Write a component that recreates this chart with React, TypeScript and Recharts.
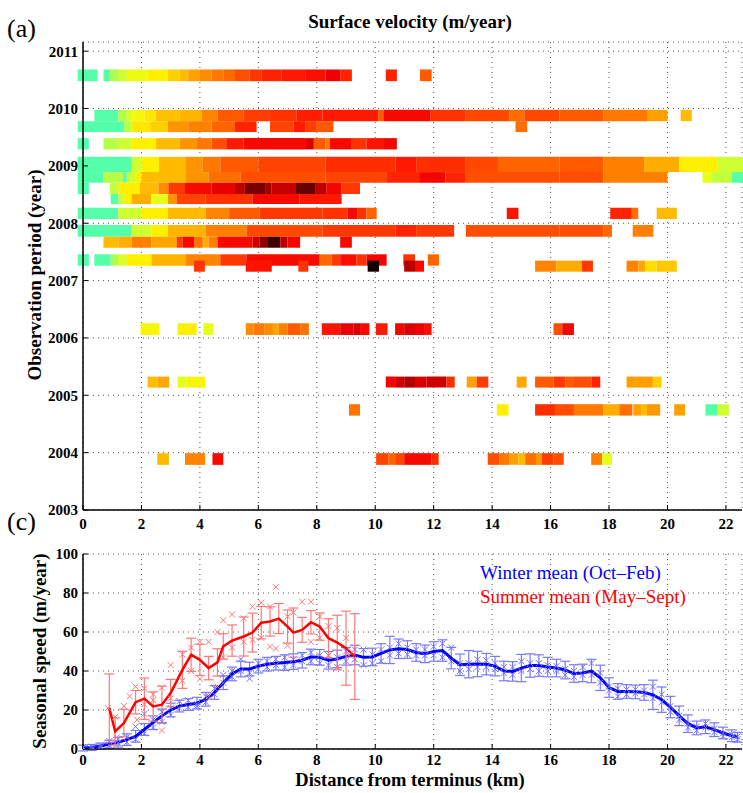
import React from 'react';
import { ComposedChart, XAxis, YAxis, CartesianGrid, ReferenceArea, Line, Scatter, ErrorBar } from 'recharts';

type Cell = [number, number, number]; // km start, km end, velocity (m/yr)

// ---------- (a) Surface velocity observations ----------
const obs2010c: Cell[] = [[-0.18,0.5,0],[0.7,0.92,0],[0.92,1.2,9],[1.2,1.5,12],[1.5,2.2,15],[2.2,2.9,17],[2.9,3.3,21],[3.3,3.6,24],[3.6,4.0,28],[4.0,4.4,31],[4.4,4.8,34],[4.8,5.2,37],[5.2,5.7,42],[5.7,6.1,46],[6.1,6.8,50],[6.8,7.6,52],[7.6,8.3,54],[8.3,8.8,57],[8.8,9.2,50],[10.36,10.74,50],[11.53,11.93,40]];
const obs2009d: Cell[] = [[0.39,1.21,0],[1.21,1.5,10],[1.5,1.72,13],[1.72,2.1,16],[2.1,2.5,18],[2.5,3.3,23],[3.3,4.05,25],[4.05,4.6,32],[4.6,5.5,40],[5.5,6.4,45],[6.4,7.3,47],[7.3,8.2,51],[8.2,10.1,52],[10.1,10.3,40],[10.3,11.9,55],[11.9,13.1,47],[13.1,14.6,43],[14.6,15.1,36],[15.1,16.3,43],[16.3,17.8,40],[17.8,19.3,34],[19.3,20.0,28],[20.45,20.83,24]];
const obs2009c: Cell[] = [[-0.18,1.41,0],[1.41,1.66,10],[1.66,2.3,18],[2.3,2.9,21],[2.9,3.6,30],[3.6,4.4,33],[4.4,5.2,38],[5.2,5.94,50],[6.4,7.2,44],[7.2,7.6,52],[7.6,8.0,45],[8.0,8.57,40],[14.8,15.2,36]];
const obs2009b: Cell[] = [[-0.18,0.2,0],[0.7,1.2,10],[1.2,1.67,12],[1.67,2.5,17],[2.5,3.3,24],[3.3,3.9,30],[3.9,4.4,34],[4.4,4.9,42],[4.9,5.5,52],[5.5,7.6,55],[7.6,7.9,60],[7.9,8.3,40],[8.3,8.45,34],[8.45,9.2,55],[9.2,9.7,47],[9.7,10.3,53],[10.3,10.74,56]];
const obs2009a: Cell[] = [[-0.18,1.67,0],[1.67,2.0,12],[2.0,2.6,17],[2.6,3.5,24],[3.5,4.1,30],[4.1,4.7,34],[4.7,6.0,40],[6.0,8.3,44],[8.3,10.7,48],[10.7,11.4,52],[11.4,13.1,48],[13.1,14.2,43],[14.2,16.3,38],[16.3,17.8,40],[17.8,19.2,33],[19.2,20.4,26],[20.4,21.7,17],[21.7,22.6,12]];
const obs2008e: Cell[] = [[-0.18,0.7,0],[0.7,1.37,10],[1.37,1.5,3],[1.5,1.8,12],[1.8,2.0,17],[2.0,3.5,24],[3.5,4.3,30],[4.3,5.4,36],[5.4,8.3,42],[8.3,10.4,44],[10.4,11.5,50],[11.5,12.4,56],[12.4,13.1,50],[13.1,16.3,42],[16.3,17.8,42],[17.8,20.0,33],[21.2,21.5,14],[21.5,22.2,11],[22.2,22.6,3]];
const obs2008d: Cell[] = [[-0.18,0.2,0],[0.92,1.21,11],[1.21,1.95,17],[1.95,2.58,24],[2.58,2.92,31],[2.92,3.49,46],[3.49,4.4,55],[4.4,5.2,58],[5.2,5.54,64],[5.54,6.23,76],[6.23,6.46,68],[6.46,7.26,63],[7.26,7.94,80],[7.94,8.34,64],[8.34,8.85,56],[8.85,9.48,46]];
const obs2008c: Cell[] = [[0.95,1.21,0],[1.21,1.41,11],[1.41,1.66,17],[1.66,2.34,26],[2.34,2.9,14],[2.9,3.2,30],[3.2,4.2,44],[4.2,5.8,47],[5.8,7.4,55],[7.4,8.85,52]];
const obs2008b: Cell[] = [[-0.18,1.21,0],[1.21,2.0,12],[2.0,2.9,17],[2.9,4.2,24],[4.2,5.0,32],[5.0,6.05,40],[6.05,8.2,46],[8.2,9.05,47],[9.05,9.4,55],[9.4,9.7,47],[9.7,10.05,38],[14.5,14.9,53],[18.04,18.78,50],[18.78,19.0,36],[19.63,20.32,24]];
const obs2008a: Cell[] = [[-0.18,1.66,0],[1.66,2.34,12],[2.34,2.9,17],[2.9,4.2,25],[4.2,5.6,33],[5.6,8.2,43],[8.2,10.7,46],[10.7,11.4,50],[11.4,12.7,46],[13.1,16.3,42],[16.3,17.8,42],[17.8,18.1,37],[18.81,19.52,33]];
const obs2007c: Cell[] = [[0.7,1.21,24],[1.21,1.66,26],[1.66,2.34,33],[2.34,3.2,27],[3.2,3.4,45],[3.4,3.8,55],[3.8,4.1,35],[4.1,4.3,26],[4.3,4.6,33],[4.6,5.8,55],[5.8,6.05,62],[6.05,6.3,72],[6.3,6.75,88],[6.75,7.0,65],[7.0,7.43,56],[8.8,9.2,55]];
const obs2007b: Cell[] = [[-0.18,0.2,0],[0.39,0.95,0],[0.95,1.2,9],[1.2,1.5,13],[1.5,2.34,17],[2.34,3.5,25],[3.5,4.7,32],[4.7,5.6,46],[5.6,8.1,55],[8.1,8.5,37],[8.5,8.8,46],[8.8,9.35,54],[9.35,9.7,47],[9.7,10.39,56],[10.96,11.36,47],[11.8,12.18,38]];
const obs2007a: Cell[] = [[3.8,4.17,47],[5.57,6.46,53],[7.37,7.71,47],[9.74,10.13,95],[10.99,11.36,65],[11.36,11.67,55],[15.47,16.2,32],[16.2,17.07,26],[17.07,17.45,46],[18.6,19.0,32],[19.0,19.23,27],[19.23,19.63,19],[19.63,20.32,22]];
const obs2006: Cell[] = [[1.97,2.61,16],[3.24,3.89,17],[4.12,4.46,14],[5.57,5.83,31],[5.83,6.2,34],[6.2,6.5,31],[6.5,6.7,27],[6.7,7.0,33],[7.0,7.43,40],[7.43,7.73,35],[8.17,8.8,53],[8.8,9.25,58],[9.25,9.48,61],[9.48,9.8,55],[10.02,10.42,52],[10.68,10.99,56],[10.99,11.36,60],[11.36,11.7,57],[11.7,11.93,54],[16.1,16.4,42],[16.4,16.8,56]];
const obs2005b: Cell[] = [[2.21,2.56,24],[2.56,2.95,27],[3.24,3.55,14],[3.55,4.18,16],[10.36,10.68,56],[10.68,10.99,62],[10.99,11.36,66],[11.36,11.76,60],[11.76,12.44,62],[12.44,12.72,48],[13.13,13.47,28],[13.47,13.87,45],[14.84,15.18,27],[15.47,16.1,40],[16.1,16.5,46],[16.5,16.8,40],[16.8,17.4,42],[17.4,17.7,50],[18.6,19.5,28],[19.5,19.8,21]];
const obs2005a: Cell[] = [[9.1,9.48,35],[14.16,14.56,17],[15.47,16.15,48],[16.15,16.8,42],[16.8,17.8,34],[17.8,18.35,26],[18.35,18.8,36],[18.83,19.1,28],[19.1,19.3,24],[19.3,19.75,29],[20.23,20.6,28],[21.3,21.7,3],[21.7,22.1,12]];
const obs2004: Cell[] = [[2.54,2.94,24],[3.49,4.18,32],[4.43,4.8,55],[10.03,10.45,44],[10.45,10.68,38],[10.68,10.99,44],[10.99,11.93,55],[11.93,12.17,48],[13.85,14.24,42],[14.24,14.6,34],[14.6,14.9,28],[14.9,15.13,24],[15.13,15.5,36],[15.5,15.7,30],[15.7,16.1,45],[16.1,16.45,42],[17.39,17.77,33],[17.77,18.1,14]];

// observation periods (decimal years) for each row
const periods: { from: number; to: number; cells: Cell[] }[] = [
  { from: 2010.477, to: 2010.681, cells: obs2010c },
  { from: 2009.780, to: 2009.977, cells: obs2009d },
  { from: 2009.589, to: 2009.780, cells: obs2009c },
  { from: 2009.287, to: 2009.484, cells: obs2009b },
  { from: 2008.892, to: 2009.158, cells: obs2009a },
  { from: 2008.706, to: 2008.892, cells: obs2008e },
  { from: 2008.509, to: 2008.706, cells: obs2008d },
  { from: 2008.334, to: 2008.509, cells: obs2008c },
  { from: 2008.073, to: 2008.270, cells: obs2008b },
  { from: 2007.765, to: 2007.969, cells: obs2008a },
  { from: 2007.573, to: 2007.765, cells: obs2007c },
  { from: 2007.260, to: 2007.458, cells: obs2007b },
  { from: 2007.155, to: 2007.348, cells: obs2007a },
  { from: 2006.052, to: 2006.256, cells: obs2006 },
  { from: 2005.134, to: 2005.326, cells: obs2005b },
  { from: 2004.646, to: 2004.845, cells: obs2005a },
  { from: 2003.787, to: 2003.991, cells: obs2004 },
];

const kmTicks = [0, 2, 4, 6, 8, 10, 12, 14, 16, 18, 20, 22];
const yearTicks = [2003, 2004, 2005, 2006, 2007, 2008, 2009, 2010, 2011];
const speedTicks = [0, 20, 40, 60, 80, 100];

// ---------- (c) Seasonal speed ----------
const winterX = [0,0.3,0.6,0.9,1.2,1.5,1.8,2.1,2.4,2.7,3.0,3.3,3.6,3.9,4.2,4.5,4.8,5.1,5.4,5.7,6.0,6.3,6.6,6.9,7.2,7.5,7.8,8.1,8.4,8.7,9.0,9.3,9.6,9.9,10.2,10.5,10.8,11.1,11.4,11.7,12.0,12.3,12.6,12.9,13.2,13.5,13.8,14.1,14.4,14.7,15.0,15.3,15.6,15.9,16.2,16.5,16.8,17.1,17.4,17.7,18.0,18.3,18.6,18.9,19.2,19.5,19.8,20.1,20.4,20.7,21.0,21.3,21.6,21.9,22.2,22.4];
const winterMean = [0.5,0.8,1.5,2.5,3.5,4.8,6.5,10,13.5,17,20,22,22.8,23.5,25.5,29,34,38.5,41,41,42.5,43.5,44,44.3,44.8,45.5,47.2,47,45.5,46.2,47.5,48.2,47,47.2,49,50.8,51.4,51,49.5,48.8,50,50.5,46.6,43.2,43.5,43.6,43.5,42.5,40,39.8,41.5,42.8,42.8,42,41.5,40.5,38.7,39,40,36.5,31.5,29.5,29.5,29.3,29,27.8,25.3,21.5,17,13,10.8,11.4,9.9,8.2,6.8,6];
const winterErr = [1.5,1.5,1.5,2,2.5,3,3,3,3.5,3.5,3.5,3,3,3,3.5,3.5,3.5,3.5,4,3.5,3.5,3.5,3.5,4,4,4,4,4,4.5,4.5,4.5,5,4.5,4.5,5,7,5,4.5,4.5,4.5,5,5.5,5.5,5.5,7,6.5,5.5,5,5,5,7,6,5.5,5,4.5,4.5,4.5,4.5,6,6.5,5,4,3.5,3.5,4,7.5,6.5,5.5,5,4.5,3.5,3.5,3.5,3,3,2.5];
const winterHigh = [1,1.2,2,4,5,6,11.5,18,15,19,21,24.5,25,23,27,31,38,40,46,39,44,45,46,47,46,48,49.5,48,48,47,50,51,51,48.5,51,52,54,52,51,51,52.5,54,52,44,44,46,45.5,44,42,42,45,44,44,43,42.5,41,40,42,44,39,32,31,30.5,30.5,30,32,28,22,17,13,11.5,13,10.5,8,7.5,6.5];
const winterLow = [0.5,0,1,2,3,3.5,5,8,11,14,17.5,21,21.5,22,24,28,34,37,40,36,41,42,43,42,43,45,45,44,43,42,45,46,43,44,45,48,49,48.5,48,48,48,47,45,40,41,42,42,41,39,38,40,41,40,40,40,38,37,38,38,34,30,27,28,28.5,28,26,24,19,15,11,9.5,11,8.5,6.5,6,5];

const summerX = [0.9,1.1,1.4,1.8,2.1,2.4,2.7,3.0,3.4,3.7,4.0,4.3,4.6,4.8,5.1,5.5,5.8,6.1,6.4,6.7,7.0,7.2,7.5,7.8,8.1,8.4,8.7,9.0,9.3];
const summerMean = [21,9,13.3,24,25.8,21.8,22.7,28.7,40.6,48.3,45.7,41.5,44.4,52.6,55.6,57.7,59.7,64.8,65.4,66.9,62.8,59.7,61.1,65,62.8,56.8,54.6,51.7,47.4];
const summerErr = [17.5,7,7,6,10.6,7.5,9.5,7,9.5,8.5,8,6,7,6.5,8,10,10,8.3,7.5,7.7,8.5,12.6,6.4,6,7,10,14,19,22];
const summerPtX = [0.85,1.1,1.15,1.4,1.6,1.8,1.85,2.1,2.1,2.4,2.4,2.7,2.7,3.0,3.0,3.4,3.4,3.7,3.7,4.0,4.0,4.3,4.3,4.6,4.6,4.8,4.8,5.1,5.1,5.5,5.5,5.8,5.8,6.1,6.1,6.4,6.4,6.6,6.6,7.0,7.0,7.2,7.5,7.8,7.8,8.1,8.1,8.4,8.4,8.7,8.7,9.0,9.1];
const summerPtY = [21,16.5,6,22,27,32,15,31,23,28,25,31.5,9.5,43,26,48.5,35,52,40,55,36,55,27,60,32,66,47,69,52,67,55,73,56,75,57,73,52.5,83,51.5,68,53,70,75.5,75.5,55,68,57,63,48,62,42,57,48];

const meanSeries = (xs: number[], ys: number[], es: number[]) => xs.map((x, i) => ({ x, y: ys[i], e: es[i] }));
const pointSeries = (xs: number[], ys: number[]) => xs.map((x, i) => ({ x, y: ys[i] }));

const winterLineData = meanSeries(winterX, winterMean, winterErr);
const summerLineData = meanSeries(summerX, summerMean, summerErr);
const winterPointData = [...pointSeries(winterX, winterHigh), ...pointSeries(winterX, winterLow)];
const summerPointData = pointSeries(summerPtX, summerPtY);

// ---------- colour map ----------
const cmap: [number, number, number, number][] = [
  [0, 85, 255, 170], [5, 85, 255, 170], [9, 170, 255, 85], [14, 230, 255, 25], [17, 255, 240, 0],
  [22, 255, 200, 0], [28, 255, 160, 0], [34, 255, 120, 0], [40, 255, 90, 0], [46, 255, 55, 0],
  [52, 255, 25, 0], [57, 240, 0, 0], [62, 205, 0, 0], [68, 165, 0, 0], [75, 125, 0, 0],
  [85, 80, 0, 0], [95, 20, 0, 0],
];
function velColor(v: number): string {
  if (v <= cmap[0][0]) return `rgb(${cmap[0][1]},${cmap[0][2]},${cmap[0][3]})`;
  for (let i = 1; i < cmap.length; i++) {
    if (v <= cmap[i][0]) {
      const a = cmap[i - 1], b = cmap[i];
      const t = (v - a[0]) / (b[0] - a[0]);
      const c = [1, 2, 3].map((k) => Math.round(a[k] + (b[k] - a[k]) * t));
      return `rgb(${c[0]},${c[1]},${c[2]})`;
    }
  }
  const l = cmap[cmap.length - 1];
  return `rgb(${l[1]},${l[2]},${l[3]})`;
}

const SERIF = '"Liberation Serif", "Times New Roman", serif';
const tickStyle = { fontSize: 15, fontWeight: 'bold', fill: '#000', fontFamily: SERIF };
const axisLineStyle = { stroke: '#000', strokeWidth: 1.5 };

const makeXMark = (color: string) => (props: any) => {
  const { cx, cy } = props;
  if (cx == null || cy == null) return <g />;
  const s = 3;
  return (
    <g stroke={color} strokeWidth={1}>
      <line x1={cx - s} y1={cy - s} x2={cx + s} y2={cy + s} />
      <line x1={cx - s} y1={cy + s} x2={cx + s} y2={cy - s} />
    </g>
  );
};
const BlueX = makeXMark('#7474FF');
const RedX = makeXMark('#FF7474');

export default function App() {
  return (
    <div style={{ position: 'absolute', left: 0, top: 0, width: 743, height: 793, background: '#fff' }}>
      <div style={{ position: 'absolute', left: 0, top: 0 }}>
        <ComposedChart width={743} height={540} margin={{ top: 42, right: 1, bottom: 0, left: 0 }}>
          <CartesianGrid stroke="#555" strokeDasharray="1 4" />
          <XAxis type="number" dataKey="x" domain={[0, 22.55]} allowDataOverflow ticks={kmTicks} interval={0}
            height={30} tickSize={-5} tickMargin={13} tick={tickStyle} axisLine={axisLineStyle} tickLine={{ stroke: '#000' }} />
          <YAxis type="number" domain={[2003, 2011.16]} allowDataOverflow ticks={yearTicks} interval={0}
            width={83} tickSize={-5} tickMargin={10} tick={tickStyle} axisLine={axisLineStyle} tickLine={{ stroke: '#000' }} />
          {periods.map((p, ri) =>
            p.cells.map((c, ci) => (
              <ReferenceArea key={`r${ri}-${ci}`} x1={c[0]} x2={c[1]} y1={p.from} y2={p.to}
                fill={velColor(c[2])} fillOpacity={1} stroke="none" ifOverflow="visible" />
            ))
          )}
        </ComposedChart>
      </div>
      <div style={{ position: 'absolute', left: 0, top: 540 }}>
        <ComposedChart width={743} height={253} margin={{ top: 14, right: 1, bottom: 0, left: 0 }}>
          <CartesianGrid stroke="#555" strokeDasharray="1 4" />
          <XAxis type="number" dataKey="x" domain={[0, 22.55]} allowDataOverflow ticks={kmTicks} interval={0}
            height={44} tickSize={-5} tickMargin={10} tick={tickStyle} axisLine={axisLineStyle} tickLine={{ stroke: '#000' }} />
          <YAxis type="number" domain={[0, 100]} allowDataOverflow ticks={speedTicks} interval={0}
            width={83} tickSize={-5} tickMargin={10} tick={tickStyle} axisLine={axisLineStyle} tickLine={{ stroke: '#000' }} />
          <Scatter data={winterPointData} dataKey="y" shape={BlueX} isAnimationActive={false} />
          <Line data={winterLineData} dataKey="y" type="linear" stroke="#0000FF" strokeWidth={3} dot={false} isAnimationActive={false}>
            <ErrorBar dataKey="e" width={5} stroke="#7878FF" strokeWidth={1.2} direction="y" />
          </Line>
          <Scatter data={summerPointData} dataKey="y" shape={RedX} isAnimationActive={false} />
          <Line data={summerLineData} dataKey="y" type="linear" stroke="#FF0000" strokeWidth={2.5} dot={false} isAnimationActive={false}>
            <ErrorBar dataKey="e" width={5} stroke="#FF7878" strokeWidth={1.2} direction="y" />
          </Line>
        </ComposedChart>
      </div>
      <svg width={743} height={793} style={{ position: 'absolute', left: 0, top: 0, pointerEvents: 'none' }}>
        <g fontFamily={SERIF} fill="#000">
          <text x={7} y={37} fontSize={26}>(a)</text>
          <text x={7} y={530} fontSize={26}>(c)</text>
          <text x={410} y={28} fontSize={19} fontWeight="bold" textAnchor="middle">Surface velocity (m/year)</text>
          <text x={41} y={275} fontSize={19} fontWeight="bold" textAnchor="middle" transform="rotate(-90 41 275)">Observation period (year)</text>
          <text x={46} y={651} fontSize={19} fontWeight="bold" textAnchor="middle" transform="rotate(-90 46 651)">Seasonal speed (m/year)</text>
          <text x={410} y={786} fontSize={18.5} fontWeight="bold" textAnchor="middle">Distance from terminus (km)</text>
          <text x={480} y={579} fontSize={19} fill="#0000FF">Winter mean (Oct–Feb)</text>
          <text x={480} y={603} fontSize={19} fill="#FF0000">Summer mean (May–Sept)</text>
        </g>
      </svg>
    </div>
  );
}
